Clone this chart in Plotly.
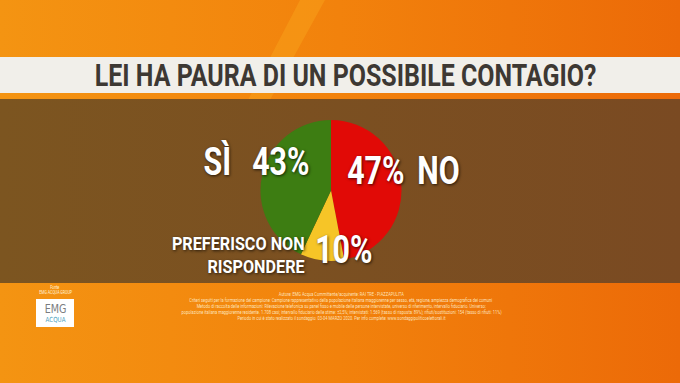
import plotly.graph_objects as go

# ---- data ----
labels = ["NO", "PREFERISCO NON RISPONDERE", "SÌ"]
values = [47, 10, 43]
colors = ["#e10a06", "#f6c527", "#3d7d12"]
title_text = "LEI HA PAURA DI UN POSSIBILE CONTAGIO?"
footer_lines = [
    "Autore: EMG Acqua Committente/acquirente: RAI TRE - PIAZZAPULITA",
    "Criteri seguiti per la formazione del campione: Campione rappresentativo della popolazione italiana maggiorenne per sesso, età, regione, ampiezza demografica dei comuni",
    "Metodo di raccolta delle informazioni: Rilevazione telefonica su panel fisso e mobile delle persone intervistate, universo di riferimento, intervallo fiduciario. Universo:",
    "popolazione italiana maggiorenne residente. 1.708 casi; intervallo fiduciario delle stime: ±2,5%; intervistati: 1.569 (tasso di risposta: 89%); rifiuti/sostituzioni: 154 (tasso di rifiuti: 11%)",
    "Periodo in cui è stato realizzato il sondaggio: 03-04 MARZO 2020. Per info complete: www.sondaggipoliticoelettorali.it",
]

W, H = 680, 383
FONT = "Roboto, Liberation Sans, sans-serif"

fig = go.Figure()

def rect(x0, y0, x1, y1, **kw):
    fig.add_trace(go.Scatter(x=[x0, x1, x1, x0, x0], y=[y0, y0, y1, y1, y0],
                             mode="lines", line=dict(width=0), fill="toself",
                             hoverinfo="skip", showlegend=False, **kw))

# orange background gradient
rect(0, 0, W, H, fillgradient=dict(type="horizontal",
     colorscale=[[0, "#f49412"], [0.5, "#f2820c"], [1, "#ec6a08"]]))
# light streak
fig.add_trace(go.Scatter(x=[300, 325, 270, 248, 300], y=[0, 0, 100, 100, 0], mode="lines",
                         line=dict(width=0), fill="toself", fillcolor="rgba(255,190,40,0.25)",
                         hoverinfo="skip", showlegend=False))
# title bar
rect(0, 57, W, 93, fillcolor="#f1efea")
# brown band
rect(0, 99, W, 283, fillgradient=dict(type="horizontal",
     colorscale=[[0, "#7c5520"], [1, "#7a4a22"]]))
# logo box
rect(36, 299, 74, 327, fillcolor="#ffffff", line_color="#c9d3da")

fig.add_trace(go.Pie(
    labels=labels, values=values, sort=False, direction="clockwise", rotation=0,
    marker=dict(colors=colors, line=dict(width=0)), textinfo="none",
    hoverinfo="skip", showlegend=False,
    domain=dict(x=[260 / W, 402 / W], y=[1 - 261 / H, 1 - 120 / H]),
))

shadow = "1px 1px 3px rgba(0,0,0,0.7)"
big = dict(family=FONT, size=38, color="white", weight="bold", shadow=shadow)
mid = dict(family=FONT, size=18, color="white", weight="bold", shadow=shadow)

ann = [
    dict(x=217, y=162, text=labels[2], font=big),
    dict(x=281, y=162, text=f"{values[2]}%", font=big),
    dict(x=376, y=171, text=f"{values[0]}%", font=big),
    dict(x=438, y=171, text=labels[0], font=big),
    dict(x=344, y=250, text=f"{values[1]}%", font=big),
    dict(x=307, y=255, text="PREFERISCO NON<br>RISPONDERE", font=mid, xanchor="right", align="right"),
    dict(x=345, y=75, text=title_text,
         font=dict(family=FONT, size=32, color="#3d3833", weight="bold")),
    dict(x=55, y=309, text="EMG", font=dict(family="DejaVu Sans", size=12, color="#7a7c80")),
    dict(x=55, y=320, text="ACQUA", font=dict(family="DejaVu Sans", size=7, color="#4f9fc0")),
    dict(x=55, y=287, text="Fonte", font=dict(family=FONT, size=4.5, color="#fff3dc")),
    dict(x=55, y=292, text="EMG ACQUA GROUP", font=dict(family=FONT, size=4.5, color="#fff3dc")),
]
for i, line in enumerate(footer_lines):
    ann.append(dict(x=341, y=294 + 6 * i, text=line,
                    font=dict(family=FONT, size=5, color="rgba(255,240,210,0.9)")))
for a in ann:
    a.setdefault("xanchor", "center")
    a.setdefault("yanchor", "middle")
    a.update(xref="x", yref="y", showarrow=False)

fig.update_layout(
    width=W, height=H, margin=dict(l=0, r=0, t=0, b=0),
    paper_bgcolor="#f08010", plot_bgcolor="rgba(0,0,0,0)",
    xaxis=dict(range=[0, W], visible=False, fixedrange=True),
    yaxis=dict(range=[H, 0], visible=False, fixedrange=True),
    annotations=ann,
)

post = """
document.body.style.margin='0';document.body.style.overflow='hidden';
document.querySelectorAll('.annotation-text').forEach(function(t){
  var s = t.textContent;
  t.style.transformBox='fill-box';
  var right = s.indexOf('PREFERISCO') >= 0;
  var k = 0.8;
  if (right) k = 0.9;
  else if (s.indexOf('CONTAGIO') >= 0) k = 0.78;
  t.style.transformOrigin = right ? '100% 50%' : '50% 50%';
  t.style.transform='scaleX(' + k + ')';
});
"""
fig.write_html("out.html", config=dict(displayModeBar=False), post_script=post)
